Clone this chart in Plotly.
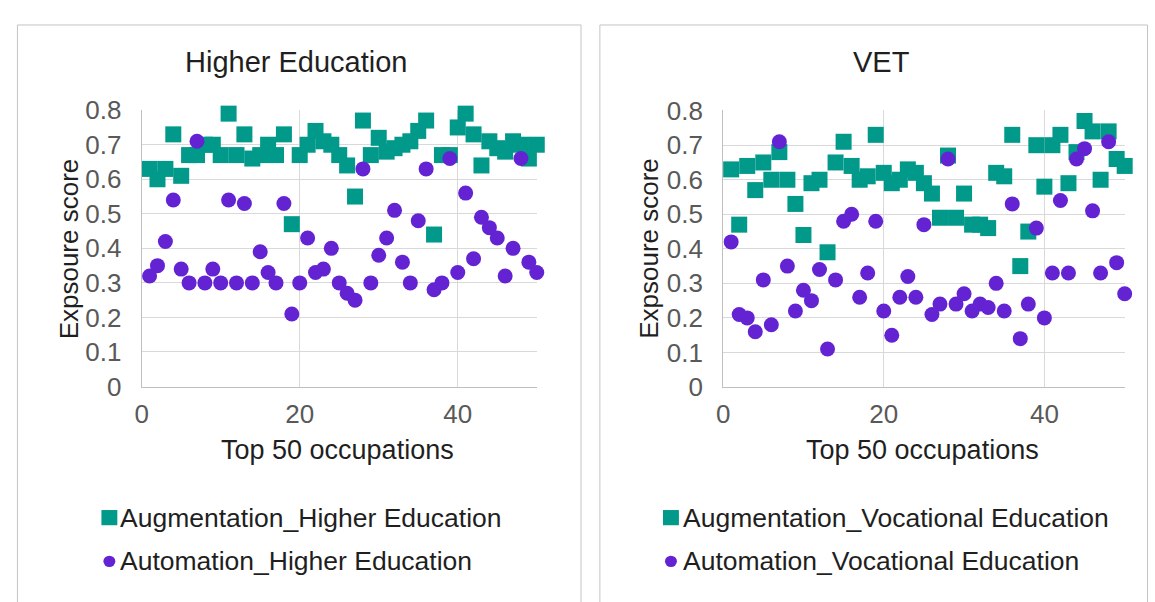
import plotly.graph_objects as go

W, H = 1155, 602

# ---- data -------------------------------------------------------------
occupations = list(range(1, 51))

he_augmentation = [
    0.63, 0.60, 0.63, 0.73, 0.61, 0.67, 0.67, 0.70, 0.70, 0.67,
    0.79, 0.67, 0.73, 0.66, 0.67, 0.70, 0.67, 0.73, 0.47, 0.67,
    0.70, 0.74, 0.71, 0.70, 0.67, 0.64, 0.55, 0.77, 0.67, 0.72,
    0.68, 0.69, 0.70, 0.71, 0.74, 0.77, 0.44, 0.67, 0.67, 0.75,
    0.79, 0.73, 0.64, 0.71, 0.69, 0.68, 0.71, 0.70, 0.66, 0.70,
]
he_automation = [
    0.32, 0.35, 0.42, 0.54, 0.34, 0.30, 0.71, 0.30, 0.34, 0.30,
    0.54, 0.30, 0.53, 0.30, 0.39, 0.33, 0.30, 0.53, 0.21, 0.30,
    0.43, 0.33, 0.34, 0.40, 0.30, 0.27, 0.25, 0.63, 0.30, 0.38,
    0.43, 0.51, 0.36, 0.30, 0.48, 0.63, 0.28, 0.30, 0.66, 0.33,
    0.56, 0.37, 0.49, 0.46, 0.43, 0.32, 0.40, 0.66, 0.36, 0.33,
]
vet_augmentation = [
    0.63, 0.47, 0.64, 0.57, 0.65, 0.60, 0.68, 0.60, 0.53, 0.44,
    0.59, 0.60, 0.39, 0.65, 0.71, 0.64, 0.60, 0.61, 0.73, 0.62,
    0.59, 0.60, 0.63, 0.62, 0.59, 0.56, 0.49, 0.67, 0.49, 0.56,
    0.47, 0.47, 0.46, 0.62, 0.61, 0.73, 0.35, 0.45, 0.70, 0.58,
    0.70, 0.73, 0.59, 0.68, 0.77, 0.74, 0.60, 0.74, 0.66, 0.64,
]
vet_automation = [
    0.42, 0.21, 0.20, 0.16, 0.31, 0.18, 0.71, 0.35, 0.22, 0.28,
    0.25, 0.34, 0.11, 0.31, 0.48, 0.50, 0.26, 0.33, 0.48, 0.22,
    0.15, 0.26, 0.32, 0.26, 0.47, 0.21, 0.24, 0.66, 0.24, 0.27,
    0.22, 0.24, 0.23, 0.30, 0.22, 0.53, 0.14, 0.24, 0.46, 0.20,
    0.33, 0.54, 0.33, 0.66, 0.69, 0.51, 0.33, 0.71, 0.36, 0.27,
]

panel_titles = ["Higher Education", "VET"]
series_names = [
    ["Augmentation_Higher Education", "Automation_Higher Education"],
    ["Augmentation_Vocational Education", "Automation_Vocational Education"],
]
x_title = "Top 50 occupations"
y_title = "Expsoure score"
x_ticks = [0, 20, 40]
y_ticks = [0, 0.1, 0.2, 0.3, 0.4, 0.5, 0.6, 0.7, 0.8]
y_ticktext = ["0", "0.1", "0.2", "0.3", "0.4", "0.5", "0.6", "0.7", "0.8"]

# ---- styling -----------------------------------------------------------
TEAL = "#01998a"
PURPLE = "#6423d3"
FONT = "Liberation Sans, Arial, sans-serif"
TICK_GREY = "#595959"
TEXT = "#1f1f1f"
GRID = "#d9d9d9"
AXIS = "#bfbfbf"
BORDER = "#c4c4c4"


def fx(p):
    return p / W


def fy(p):
    return 1 - p / H


# plot-area pixel boxes for the two panels: (left, right, top, bottom)
areas = [(135.5, 533.0, 100.0, 391.0), (720.5, 1124.5, 100.5, 391.5)]
# panel frames (left, right, top)
frames = [(10.5, 577.5, 10.5), (596.5, 1147.5, 10.5)]
# centres of title / axis titles in px
title_pos = [(291, 49), (880, 49)]
xtitle_pos = [(333, 458), (921, 458)]
ytitle_pos = [(62, 246), (646, 246)]
# legend key: marker centre x, text start x, row centres y
legend_keys = [(103, 112, (529, 575)), (668, 678, (529, 575))]

fig = go.Figure()

datasets = [(he_augmentation, he_automation), (vet_augmentation, vet_automation)]
for i, (aug, aut) in enumerate(datasets):
    xa = "x" if i == 0 else "x2"
    ya = "y" if i == 0 else "y2"
    fig.add_trace(go.Scatter(
        x=occupations, y=aug, mode="markers", name=series_names[i][0],
        marker=dict(symbol="square", size=16, color=TEAL),
        xaxis=xa, yaxis=ya, cliponaxis=False, showlegend=False,
    ))
    fig.add_trace(go.Scatter(
        x=occupations, y=aut, mode="markers", name=series_names[i][1],
        marker=dict(symbol="circle", size=15, color=PURPLE),
        xaxis=xa, yaxis=ya, cliponaxis=False, showlegend=False,
    ))

axis_common = dict(
    showgrid=True, gridcolor=GRID, gridwidth=1,
    showline=True, linecolor=AXIS, linewidth=1,
    zeroline=False, ticks="", fixedrange=True,
    tickfont=dict(family=FONT, size=26, color=TICK_GREY),
)

layout = dict(
    width=W, height=H,
    margin=dict(l=0, r=0, t=0, b=0),
    paper_bgcolor="white", plot_bgcolor="white",
    font=dict(family=FONT, color=TEXT),
    showlegend=False,
    annotations=[], shapes=[],
)

for i, (l, r, t, b) in enumerate(areas):
    sfx = "" if i == 0 else "2"
    layout["xaxis" + sfx] = dict(
        axis_common, domain=[fx(l), fx(r)], range=[0, 50],
        tickmode="array", tickvals=x_ticks, ticklabelstandoff=4,
        anchor="y" + sfx,
    )
    layout["yaxis" + sfx] = dict(
        axis_common, domain=[fy(b), fy(t)], range=[0, 0.8005],
        tickmode="array", tickvals=y_ticks, ticktext=y_ticktext,
        ticklabelstandoff=14, anchor="x" + sfx,
    )

    fl, fr, ft = frames[i]
    layout["shapes"].append(dict(
        type="rect", xref="paper", yref="paper",
        x0=fx(fl), x1=fx(fr), y0=fy(H + 20), y1=fy(ft),
        line=dict(color=BORDER, width=1), fillcolor="rgba(0,0,0,0)",
        layer="below",
    ))

    tx, ty = title_pos[i]
    layout["annotations"].append(dict(
        text=panel_titles[i], xref="paper", yref="paper",
        x=fx(tx), y=fy(ty), xanchor="center", yanchor="middle",
        showarrow=False, font=dict(family=FONT, size=29, color=TEXT),
    ))
    ax_, ay_ = xtitle_pos[i]
    layout["annotations"].append(dict(
        text=x_title, xref="paper", yref="paper",
        x=fx(ax_), y=fy(ay_), xanchor="center", yanchor="middle",
        showarrow=False, font=dict(family=FONT, size=27, color=TEXT),
    ))
    yx, yy = ytitle_pos[i]
    layout["annotations"].append(dict(
        text=y_title, xref="paper", yref="paper", textangle=-90,
        x=fx(yx), y=fy(yy), xanchor="center", yanchor="middle",
        showarrow=False, font=dict(family=FONT, size=26, color=TEXT),
    ))

    # legend keys: square for augmentation, dot for automation
    mx, tx0, rows = legend_keys[i]
    for j, cy in enumerate(rows):
        half = 8 if j == 0 else 6
        layout["shapes"].append(dict(
            type="rect" if j == 0 else "circle",
            xref="paper", yref="paper",
            x0=fx(mx - half), x1=fx(mx + half),
            y0=fy(cy + half), y1=fy(cy - half),
            fillcolor=TEAL if j == 0 else PURPLE, line=dict(width=0),
        ))
        layout["annotations"].append(dict(
            text=series_names[i][j], xref="paper", yref="paper",
            x=fx(tx0), y=fy(cy), xanchor="left", yanchor="middle",
            showarrow=False, font=dict(family=FONT, size=26.5, color=TEXT),
        ))

fig.update_layout(**layout)
fig.write_html("out.html")
